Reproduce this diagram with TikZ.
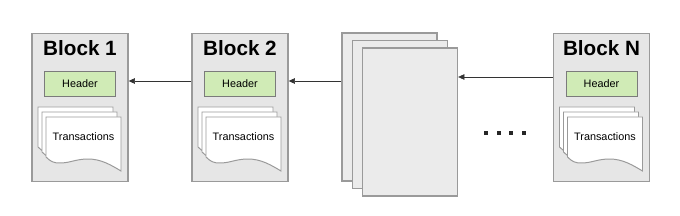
\documentclass[tikz,border=0pt]{standalone}
\usepackage{fontspec}
\setmainfont{Liberation Sans}
\usetikzlibrary{arrows.meta, calc, positioning}
\definecolor{blockgray}{HTML}{E6E6E6}
\definecolor{edgegray}{HTML}{9A9A9A}
\definecolor{headgreen}{HTML}{D0EBB6}
\tikzset{
  blockbox/.style={rectangle, draw=edgegray, fill=blockgray, line width=0.9pt,
    minimum width=2.4cm, minimum height=3.7cm, inner sep=0pt},
  blocktitle/.style={font=\bfseries\fontsize{14.7}{16}\selectfont, inner sep=0pt},
  headbox/.style={rectangle, draw=edgegray!80!black, fill=headgreen, line width=0.7pt,
    minimum width=1.775cm, minimum height=0.625cm, inner sep=0pt,
    font=\fontsize{7.7}{9}\selectfont},
  page/.style={draw=edgegray, fill=white, line width=0.7pt},
  stackpage/.style={rectangle, draw=edgegray, fill=blockgray!80!white, line width=0.9pt,
    minimum width=2.375cm, minimum height=3.7cm, inner sep=0pt},
  txlabel/.style={font=\fontsize{7.7}{9}\selectfont, inner sep=0pt},
  link/.style={-{Triangle[length=4.5pt, width=4pt]}, line width=0.5pt, draw=black!80}
}

\begin{document}
\begin{tikzpicture}[x=0.025cm, y=-0.025cm]
\useasboundingbox (0,0) rectangle (680,216);

%% Blocks
\node[blockbox] (blk1) at (80,    107.5) {};
\node[blockbox] (blk2) at (240,   107.5) {};
\node[blockbox] (blkN) at (601.5, 107.5) {};

%% Titles
\node[blocktitle] (ttl1) at (80,    48) {Block 1};
\node[blocktitle] (ttl2) at (240,   48) {Block 2};
\node[blocktitle] (ttlN) at (601.5, 48) {Block N};

%% Headers
\node[headbox] (hdr1) at (80,    83.5) {Header};
\node[headbox] (hdr2) at (240,   83.5) {Header};
\node[headbox] (hdrN) at (601.5, 83.5) {Header};

%% Transaction pages (three sheets each)
\foreach \cx/\nm in {80/1, 240/2, 601.5/N} {
  \foreach \d in {8,4,0} {
    \draw[page, shift={(\cx-34-\d, 117-1.25*\d)}]
      (0,0) -- (75,0) -- (75,54)
      .. controls (65,48) and (55,42) .. (42,42)
      .. controls (30,42) and (24,46) .. (14,46)
      .. controls (8,46) and (5,45) .. (0,40) -- cycle;
  }
  \node[txlabel] (tx\nm) at (\cx+3.5, 137) {Transactions};
}

%% Stack of further blocks
\node[stackpage] (stk1) at (389.5, 107)   {};
\node[stackpage] (stk2) at (400,   114.5) {};
\node[stackpage] (stk3) at (410,   122)   {};

%% Dots
\foreach \i in {0,...,3}
  \fill[black!85] (484+12.7*\i, 131) rectangle ++(4,4);

%% Links
\coordinate (rowA) at (0, 81);
\coordinate (rowB) at (0, 77);
\draw[link] (blk2.west |- rowA) -- (blk1.east |- rowA);
\draw[link] (stk1.west |- rowA) -- (blk2.east |- rowA);
\draw[link] (blkN.west |- rowB) -- (stk3.east |- rowB);

\end{tikzpicture}
\end{document}
